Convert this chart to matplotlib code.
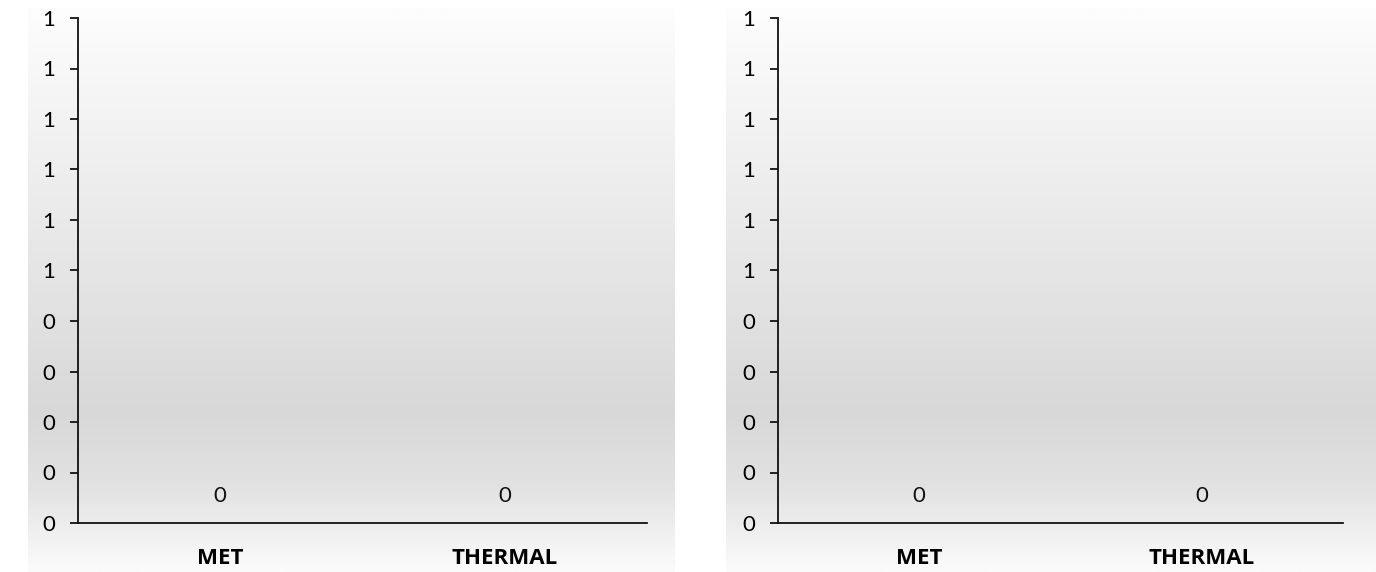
import numpy as np
import matplotlib
matplotlib.use("Agg")
import matplotlib.pyplot as plt
from matplotlib.colors import LinearSegmentedColormap
from matplotlib.ticker import MultipleLocator, FormatStrFormatter

categories = ["MET", "THERMAL"]
left_values = [0, 0]
right_values = [0, 0]

plt.rcParams['font.family'] = ['Lato', 'DejaVu Sans']

W, H = 1376, 572
fig = plt.figure(figsize=(W / 100, H / 100), dpi=100)
fig.patch.set_facecolor("white")

cmap = LinearSegmentedColormap.from_list(
    "bg",
    [(0.0, "#fdfdfd"), (0.45, "#e6e6e6"), (0.72, "#d8d8d8"), (0.85, "#e2e2e2"), (1.0, "#fbfbfb")],
)
grad = np.linspace(0, 1, 256).reshape(-1, 1)

panels = [
    # (bg_left_px, bg_right_px, ax_left_px, ax_right_px, values)
    (28, 675, 78, 647, left_values),
    (726, 1376, 778, 1343, right_values),
]

for bgl, bgr, axl, axr, vals in panels:
    bg = fig.add_axes([bgl / W, 0, (bgr - bgl) / W, 1 - 8 / H], zorder=0)
    bg.imshow(grad, aspect="auto", cmap=cmap, vmin=0, vmax=1, extent=[0, 1, 0, 1], origin="upper")
    bg.set_axis_off()

    top_px, bot_px = 18, 523
    ax = fig.add_axes([axl / W, (H - bot_px) / H, (axr - axl) / W, (bot_px - top_px) / H], zorder=1)
    ax.patch.set_alpha(0)
    x = np.arange(len(categories))
    ax.bar(x, vals, width=0.6, color="#4f81bd")
    for xi, v in zip(x, vals):
        ax.annotate(f"{v:.0f}", (xi, v), xytext=(0, 19.5), textcoords="offset points",
                    ha="center", va="center", fontsize=16, color="#111111")
    ax.set_xlim(-0.5, len(categories) - 0.5)
    ax.set_ylim(0, 1)
    ax.yaxis.set_major_locator(MultipleLocator(0.1))
    ax.yaxis.set_major_formatter(FormatStrFormatter("%.0f"))
    ax.set_xticks(x)
    ax.set_xticklabels(categories, fontweight="bold", fontsize=16, family=["Open Sans", "DejaVu Sans"])
    ax.tick_params(axis="x", length=0, pad=18)
    ax.tick_params(axis="y", direction="out", length=5.5, width=1.2, pad=11, labelsize=16)
    for s in ["top", "right"]:
        ax.spines[s].set_visible(False)
    for s in ["left", "bottom"]:
        ax.spines[s].set_linewidth(1.3)
        ax.spines[s].set_color("#111111")

fig.savefig("out.png", dpi=100)
